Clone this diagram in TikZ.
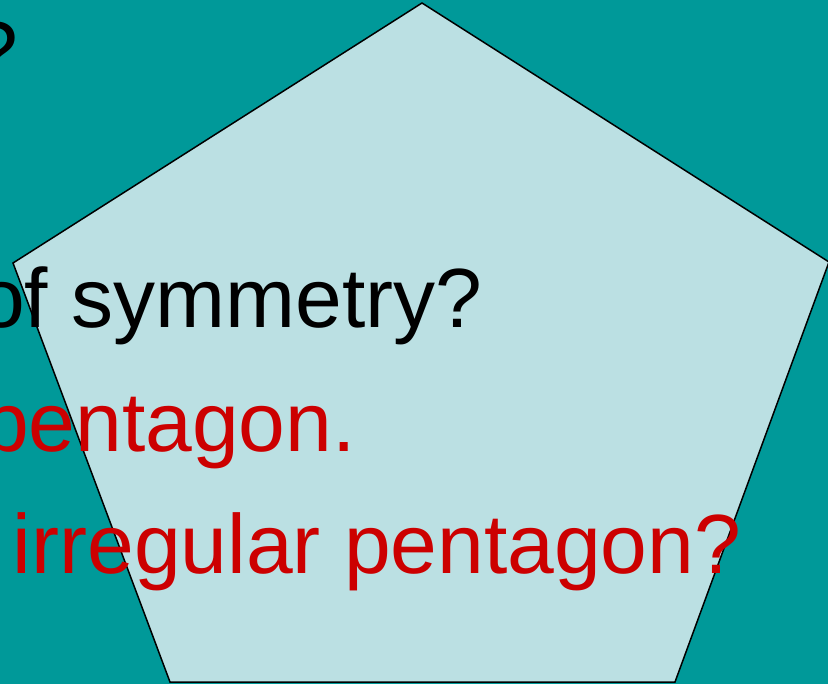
\documentclass[tikz,border=0pt]{standalone}
\usepackage{fontspec}
\setmainfont{Liberation Sans}
\definecolor{bgteal}{HTML}{009999}
\definecolor{pentfill}{HTML}{BBE0E3}
\definecolor{txtred}{HTML}{CC0000}
\begin{document}
\begin{tikzpicture}[x=1pt,y=-1pt,
  linetext/.style={anchor=base east,inner sep=0pt,font=\fontsize{84}{100}\selectfont},
  pent/.style={fill=pentfill,draw=black,line width=1.5pt,line join=miter}]
\useasboundingbox (0,0) rectangle (828,684);
\clip (0,0) rectangle (828,684);
\fill[bgteal] (0,0) rectangle (828,684);
\coordinate (t) at (422,3);
\coordinate (r) at (829,262);
\coordinate (br) at (675,682);
\coordinate (bl) at (170,682);
\coordinate (l) at (13,263);
\draw[pent] (t) -- (r) -- (br) -- (bl) -- (l) -- cycle;
\node[linetext,text=black] (q1) at (18.5,81) {?};
\node[linetext,text=black] (q2) at (482.5,328) {of symmetry?};
\node[linetext,text=txtred] (q3) at (356,452) {pentagon.};
\node[linetext,text=txtred] (q4) at (741.5,573) {irregular pentagon?};
\end{tikzpicture}
\end{document}
